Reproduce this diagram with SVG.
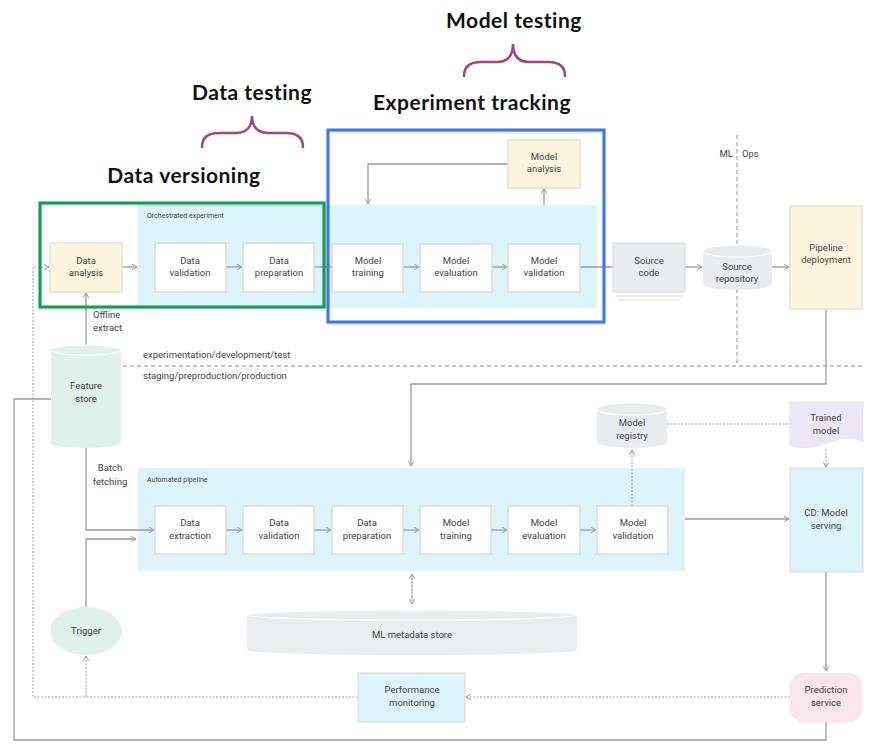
<svg xmlns="http://www.w3.org/2000/svg" width="887" height="750" viewBox="0 0 887 750">
<defs>
<marker id="ah" viewBox="0 0 10 10" refX="9" refY="5" markerWidth="7" markerHeight="7" orient="auto" markerUnits="userSpaceOnUse">
<path d="M2,1 L9,5 L2,9" fill="none" stroke="#9a9a9a" stroke-width="1.4"/>
</marker>
<filter id="sh" x="-10%" y="-10%" width="120%" height="130%">
<feDropShadow dx="0" dy="1" stdDeviation="1" flood-color="#000" flood-opacity="0.18"/>
</filter>
</defs>
<style>
.t{font-family:Roboto,"Liberation Sans",sans-serif;font-size:9.5px;fill:#444;text-anchor:middle}
.tl{font-family:Roboto,"Liberation Sans",sans-serif;font-size:9.5px;fill:#444}
.rl{font-family:Roboto,"Liberation Sans",sans-serif;font-size:7px;fill:#444}
.h{font-family:Lato,"Noto Sans",sans-serif;font-size:21px;font-weight:700;fill:#111;letter-spacing:0.5px}
.box{fill:#fff;stroke:#dcdcdc;stroke-width:1.5}
.yel{fill:#fcf6df;stroke:#e4e2d6;stroke-width:1.5}
.lb{fill:#ddf4fc}
.ln{fill:none;stroke:#9a9a9a;stroke-width:1.3}
.dot{fill:none;stroke:#a5a5a5;stroke-width:1.1;stroke-dasharray:2 1.5}
.dash{fill:none;stroke:#b0b0b0;stroke-width:1.4;stroke-dasharray:4 3}
.brace{fill:none;stroke:#a3467a;stroke-width:2.6;stroke-linecap:round}
</style>

<!-- annotations -->
<g id="annotations">
<text class="h" x="514" y="28" text-anchor="middle">Model testing</text>
<path class="brace" d="M464,76 C464,66 470,62 481,62 L497,62 C507,62 513,56 513,44 C513,56 519,62 529,62 L548,62 C559,62 565,66 565,76"/>
<text class="h" x="252" y="100" text-anchor="middle">Data testing</text>
<path class="brace" d="M202,147 C202,137 208,133 219,133 L236,133 C246,133 252,127 252,116 C252,127 258,133 268,133 L286,133 C297,133 303,137 303,147"/>
<text class="h" x="472" y="110" text-anchor="middle">Experiment tracking</text>
<text class="h" x="184" y="183" text-anchor="middle">Data versioning</text>
</g>

<!-- regions -->
<g id="regions">
<rect class="lb" x="138" y="205" width="459" height="103"/>
<text class="rl" x="147" y="218">Orchestrated experiment</text>
<rect class="lb" x="138" y="468" width="547" height="103"/>
<text class="rl" x="147" y="482">Automated pipeline</text>
<text class="tl" x="143" y="358">experimentation/development/test</text>
<text class="tl" x="143" y="379">staging/preproduction/production</text>
<text class="tl" x="733" y="157" text-anchor="end">ML</text>
<text class="tl" x="742" y="157">Ops</text>
</g>

<!-- connectors -->
<g id="connectors">
<path class="dash" d="M737,135 V366"/>
<path class="dash" d="M123,366 H862"/>
<path class="ln" d="M122,267 H137" marker-end="url(#ah)"/>
<path class="ln" d="M226,267 H242" marker-end="url(#ah)"/>
<path class="ln" d="M314,267 H332"/>
<path class="ln" d="M403,267 H419" marker-end="url(#ah)"/>
<path class="ln" d="M492,267 H507" marker-end="url(#ah)"/>
<path class="ln" d="M580,267 H613"/>
<path class="ln" d="M685,267 H702" marker-end="url(#ah)"/>
<path class="ln" d="M772,267 H789" marker-end="url(#ah)"/>
<path class="ln" d="M508,164 H368 V204" marker-end="url(#ah)"/>
<path class="ln" d="M544,205 V189" marker-end="url(#ah)"/>
<path class="ln" d="M86,345 V293" marker-end="url(#ah)"/>
<path class="ln" d="M826,309 V384 H411 V466" marker-end="url(#ah)"/>
<path class="ln" d="M51,399 H14 V740 H826 V713" marker-end="url(#ah)"/>
<path class="dot" d="M358,697 H33 V267 H49" marker-end="url(#ah)"/>
<path class="dot" d="M86,697 V656" marker-end="url(#ah)"/>
<path class="ln" d="M86,448 V530 H154" marker-end="url(#ah)"/>
<path class="ln" d="M86,607 V539 H136" marker-end="url(#ah)"/>
<path class="ln" d="M226,530 H242" marker-end="url(#ah)"/>
<path class="ln" d="M314,530 H331" marker-end="url(#ah)"/>
<path class="ln" d="M403,530 H419" marker-end="url(#ah)"/>
<path class="ln" d="M491,530 H507" marker-end="url(#ah)"/>
<path class="ln" d="M580,530 H596" marker-end="url(#ah)"/>
<path class="ln" d="M685,519 H789" marker-end="url(#ah)"/>
<path class="dot" d="M632,506 V450" marker-end="url(#ah)"/>
<path class="dot" d="M667,424 H790"/>
<path class="dot" d="M826,449 V467" marker-end="url(#ah)"/>
<path class="ln" d="M826,572 V671" marker-end="url(#ah)"/>
<path class="dot" d="M790,697 H466" marker-end="url(#ah)"/>
<path class="dot" d="M412,575 V604" marker-end="url(#ah)"/>
<path class="dot" d="M412,604 V574" marker-end="url(#ah)"/>
<path d="M615,296 H683 M618,300 H680" stroke="#dcdcdc" stroke-width="1.2"/>
</g>

<!-- experiment nodes -->
<g id="data-analysis"><rect class="yel" x="50" y="243" width="72" height="49"/><text class="t" x="86" y="264">Data</text><text class="t" x="86" y="276">analysis</text></g>
<g id="exp-data-validation"><rect class="box" x="155" y="243" width="71" height="49"/><text class="t" x="190" y="264">Data</text><text class="t" x="190" y="276">validation</text></g>
<g id="exp-data-preparation"><rect class="box" x="243" y="243" width="71" height="49"/><text class="t" x="279" y="264">Data</text><text class="t" x="279" y="276">preparation</text></g>
<g id="exp-model-training"><rect class="box" x="332" y="244" width="71" height="48"/><text class="t" x="368" y="264">Model</text><text class="t" x="368" y="276">training</text></g>
<g id="exp-model-evaluation"><rect class="box" x="420" y="244" width="72" height="48"/><text class="t" x="456" y="264">Model</text><text class="t" x="456" y="276">evaluation</text></g>
<g id="exp-model-validation"><rect class="box" x="508" y="244" width="72" height="48"/><text class="t" x="544" y="264">Model</text><text class="t" x="544" y="276">validation</text></g>
<g id="model-analysis"><rect class="yel" x="508" y="140" width="72" height="48"/><text class="t" x="544" y="160">Model</text><text class="t" x="544" y="172">analysis</text></g>
<g id="source-code"><rect x="613" y="243" width="72" height="49" fill="#e9ebee" stroke="#dcdcdc" stroke-width="1.2"/><text class="t" x="649" y="264">Source</text><text class="t" x="649" y="276">code</text></g>
<g id="source-repository"><path d="M703,251 V284 A34.5,6 0 0 0 772,284 V251" fill="#e9ebee"/><ellipse cx="737.5" cy="251" rx="34.5" ry="6" fill="#e9ebee" stroke="#fff" stroke-width="1.2"/><text class="t" x="737" y="270">Source</text><text class="t" x="737" y="282">repository</text></g>
<g id="pipeline-deployment"><rect class="yel" x="790" y="206" width="72" height="103"/><text class="t" x="826" y="251">Pipeline</text><text class="t" x="826" y="263">deployment</text></g>

<!-- outlines -->
<g id="data-versioning-box"><rect x="40" y="203" width="284" height="104" fill="none" stroke="#16995a" stroke-width="3" filter="url(#sh)"/></g>
<g id="experiment-tracking-box"><rect x="328" y="130" width="276" height="192" fill="none" stroke="#3f79d9" stroke-width="3" filter="url(#sh)"/></g>

<!-- feature store / trigger -->
<g id="feature-store"><path d="M51,350 V443 A35,5 0 0 0 121,443 V350" fill="#e0f0ea"/><ellipse cx="86" cy="350" rx="35" ry="5" fill="#e0f0ea" stroke="#fff" stroke-width="1.2"/><text class="t" x="86" y="389">Feature</text><text class="t" x="86" y="402">store</text></g>
<text class="tl" x="93" y="318">Offline</text>
<text class="tl" x="93" y="331">extract</text>
<text class="t" x="110" y="471">Batch</text>
<text class="t" x="110" y="485">fetching</text>
<g id="trigger"><ellipse cx="86" cy="631" rx="36" ry="24" fill="#e0f0ea"/><text class="t" x="86" y="634">Trigger</text></g>

<!-- pipeline nodes -->
<g id="data-extraction"><rect class="box" x="155" y="506" width="71" height="48"/><text class="t" x="190" y="526">Data</text><text class="t" x="190" y="539">extraction</text></g>
<g id="data-validation"><rect class="box" x="243" y="506" width="71" height="48"/><text class="t" x="279" y="526">Data</text><text class="t" x="279" y="539">validation</text></g>
<g id="data-preparation"><rect class="box" x="332" y="506" width="71" height="48"/><text class="t" x="367" y="526">Data</text><text class="t" x="367" y="539">preparation</text></g>
<g id="model-training"><rect class="box" x="420" y="506" width="71" height="48"/><text class="t" x="456" y="526">Model</text><text class="t" x="456" y="539">training</text></g>
<g id="model-evaluation"><rect class="box" x="508" y="506" width="72" height="48"/><text class="t" x="544" y="526">Model</text><text class="t" x="544" y="539">evaluation</text></g>
<g id="model-validation"><rect class="box" x="597" y="506" width="71" height="48"/><text class="t" x="633" y="526">Model</text><text class="t" x="633" y="539">validation</text></g>

<g id="model-registry"><path d="M597,409 V442 A35,6 0 0 0 667,442 V409" fill="#e9ebee"/><ellipse cx="632" cy="409" rx="35" ry="6" fill="#e9ebee" stroke="#fff" stroke-width="1.2"/><text class="t" x="632" y="426">Model</text><text class="t" x="632" y="439">registry</text></g>
<g id="trained-model"><path d="M790,402 H863 V441 C850,436 840,438 826,443 C812,448 800,449 790,445 Z" fill="#ebe7f6" stroke="#e2dff0" stroke-width="1"/><text class="t" x="826" y="421">Trained</text><text class="t" x="826" y="434">model</text></g>
<g id="cd-model-serving"><rect x="790" y="468" width="73" height="104" fill="#ddf4fc" stroke="#dcdcdc" stroke-width="1.2"/><text class="t" x="826" y="516">CD: Model</text><text class="t" x="826" y="529">serving</text></g>
<g id="ml-metadata-store"><path d="M247,615 V650 A165,5 0 0 0 577,650 V615" fill="#ebecef"/><ellipse cx="412" cy="615" rx="165" ry="5" fill="#ebecef" stroke="#fff" stroke-width="1.2"/><text class="t" x="412" y="638">ML metadata store</text></g>
<g id="prediction-service"><rect x="790" y="673" width="72" height="49" rx="14" fill="#fbe4ec" stroke="#eeeeee" stroke-width="1"/><text class="t" x="826" y="693">Prediction</text><text class="t" x="826" y="706">service</text></g>
<g id="performance-monitoring"><rect x="358" y="673" width="107" height="49" fill="#ddf4fc" stroke="#dcdcdc" stroke-width="1.2"/><text class="t" x="412" y="693">Performance</text><text class="t" x="412" y="706">monitoring</text></g>
</svg>
